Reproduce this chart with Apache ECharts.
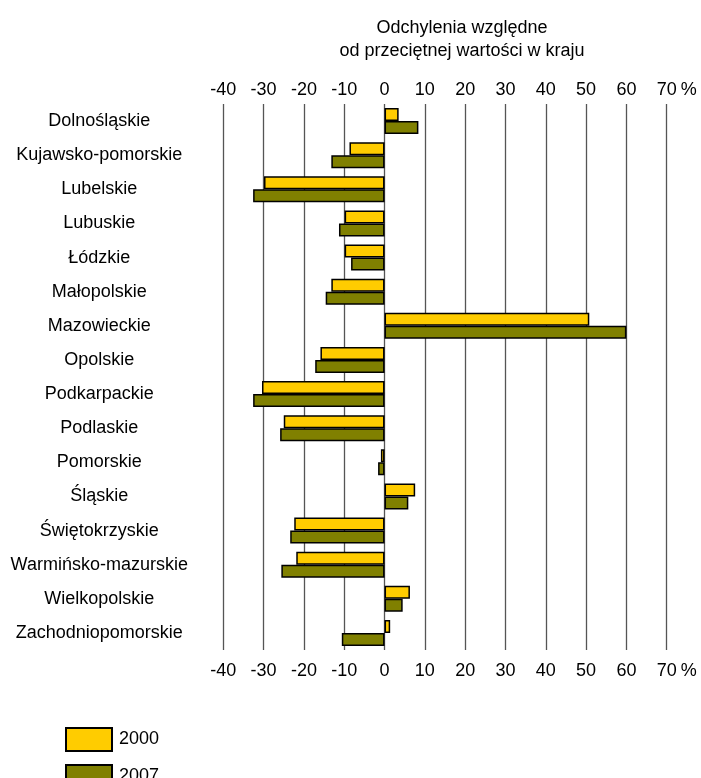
<!DOCTYPE html>
<html>
<head>
<meta charset="utf-8">
<script src="https://cdn.jsdelivr.net/npm/echarts@6/dist/echarts.min.js"></script>
<style>
html,body{margin:0;padding:0;background:#fff;}
#chart{width:701px;height:778px;}
</style>
</head>
<body>
<div id="chart"></div>
<script>
const categories = ["Dolnośląskie","Kujawsko-pomorskie","Lubelskie","Lubuskie","Łódzkie","Małopolskie","Mazowieckie","Opolskie","Podkarpackie","Podlaskie","Pomorskie","Śląskie","Świętokrzyskie","Warmińsko-mazurskie","Wielkopolskie","Zachodniopomorskie"];
const values2000 = [3.5, -8.7, -29.9, -9.9, -9.9, -13.2, 50.8, -15.9, -30.4, -25.0, -0.9, 7.6, -22.4, -21.9, 6.3, 1.4];
const values2007 = [8.4, -13.2, -32.6, -11.3, -8.3, -14.6, 60.0, -17.2, -32.6, -25.9, -1.6, 5.9, -23.4, -25.6, 4.5, -10.6];
const seriesNames = ["2000", "2007"];
const titleLines = ["Odchylenia względne", "od przeciętnej wartości w kraju"];
const unitLabel = "%";
const axisMin = -40, axisMax = 70, axisStep = 10;

const FONT = "'Liberation Sans', Arial, sans-serif";
const chart = echarts.init(document.getElementById('chart'), null, {renderer: 'canvas'});

function legendFor(name, top) {
  return {
    orient: 'vertical', left: 60, top: top, height: 40,
    itemWidth: 46, itemHeight: 23, icon: 'rect',
    textStyle: { fontFamily: FONT, fontSize: 18, color: '#000', padding: [0,0,0,2] },
    data: [name]
  };
}

chart.setOption({
  animation: false,
  backgroundColor: '#fff',
  title: {
    text: titleLines.join('\n'),
    left: 457, top: 12, textAlign: 'center',
    textStyle: { fontFamily: FONT, fontSize: 18, fontWeight: 'normal', color: '#000', lineHeight: 23 }
  },
  legend: [legendFor(seriesNames[0], 722), legendFor(seriesNames[1], 759)],
  grid: { left: 223.3, right: 34.3, top: 104, bottom: 128, containLabel: false },
  xAxis: [
    {
      type: 'value', position: 'top', min: axisMin, max: axisMax, interval: axisStep,
      name: '{u|' + unitLabel + '}', nameLocation: 'end', nameGap: 14, nameMoveOverlap: false,
      nameTextStyle: { fontFamily: FONT, fontSize: 18, color: '#000', align: 'left', verticalAlign: 'middle',
        rich: { u: { fontFamily: FONT, fontSize: 18, color: '#000', padding: [0,0,28,0] } } },
      axisLine: { show: false }, axisTick: { show: false },
      splitLine: { show: true, lineStyle: { color: '#555', width: 1.3 } },
      axisLabel: { fontFamily: FONT, fontSize: 18, color: '#000', margin: 5, showMinLabel: true, showMaxLabel: true }
    },
    {
      type: 'value', position: 'bottom', min: axisMin, max: axisMax, interval: axisStep,
      name: '{u|' + unitLabel + '}', nameLocation: 'end', nameGap: 14, nameMoveOverlap: false,
      nameTextStyle: { fontFamily: FONT, fontSize: 18, color: '#000', align: 'left', verticalAlign: 'middle',
        rich: { u: { fontFamily: FONT, fontSize: 18, color: '#000', padding: [42,0,0,0] } } },
      axisLine: { show: false }, axisTick: { show: false }, splitLine: { show: false },
      axisLabel: { fontFamily: FONT, fontSize: 18, color: '#000', margin: 12, showMinLabel: true, showMaxLabel: true }
    }
  ],
  yAxis: {
    type: 'category', inverse: true, data: categories,
    axisLine: { show: false }, axisTick: { show: false },
    axisLabel: { fontFamily: FONT, fontSize: 18, color: '#000', align: 'center', margin: 124, padding: [5,0,0,0] }
  },
  series: [
    {
      name: seriesNames[0], type: 'bar', xAxisIndex: 0, data: values2000,
      barGap: '0%', barCategoryGap: '24%',
      itemStyle: { color: '#FFCC00', borderColor: '#000', borderWidth: 1.5 }
    },
    {
      name: seriesNames[1], type: 'bar', xAxisIndex: 0, data: values2007,
      barGap: '0%', barCategoryGap: '24%',
      itemStyle: { color: '#808000', borderColor: '#000', borderWidth: 1.5 }
    }
  ]
});
</script>
</body>
</html>
